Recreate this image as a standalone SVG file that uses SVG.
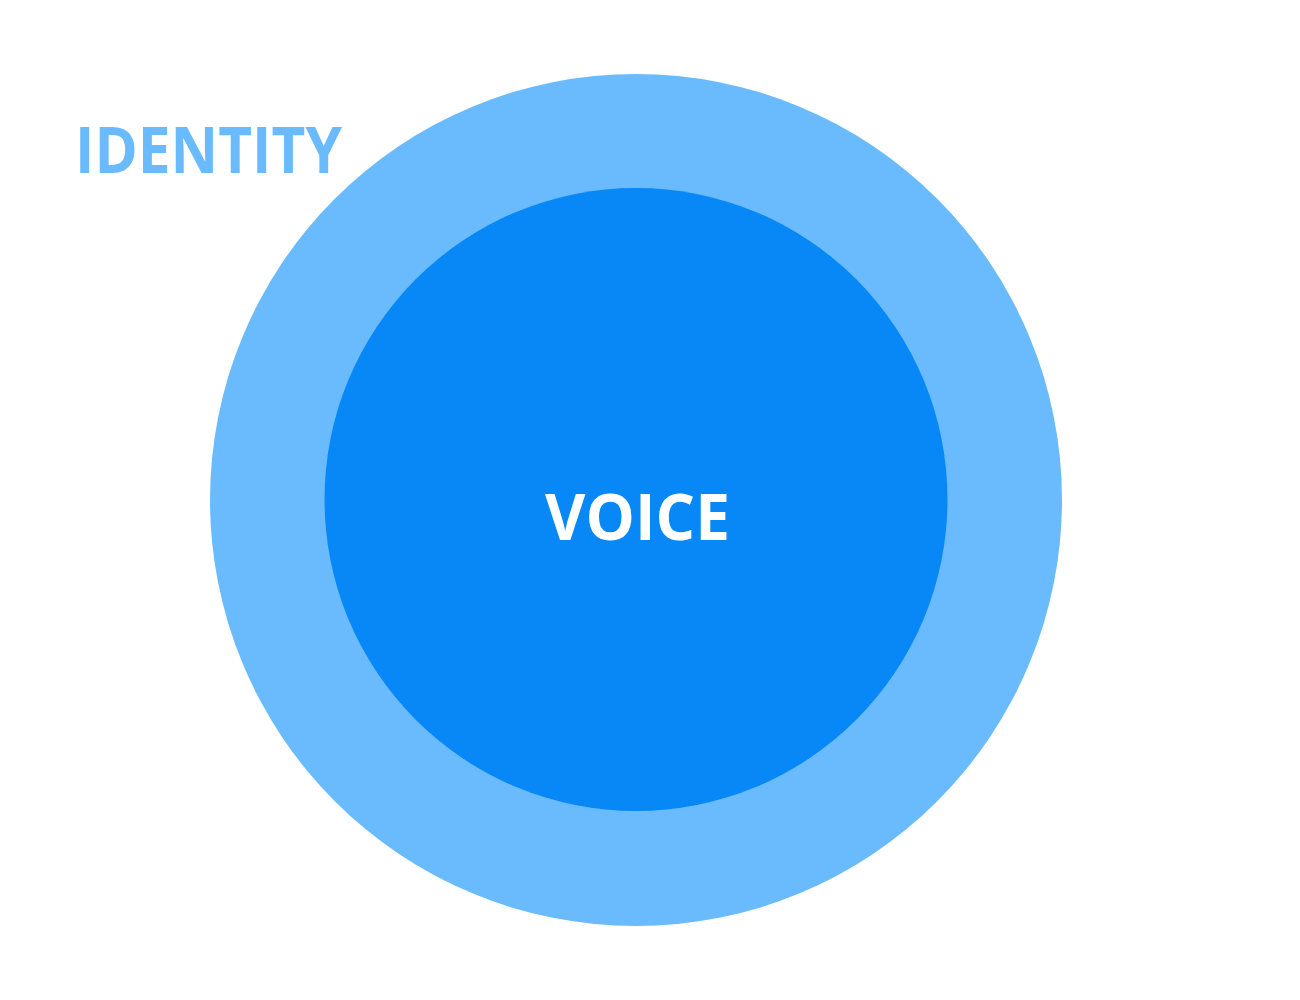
<svg xmlns="http://www.w3.org/2000/svg" width="1300" height="1000" viewBox="0 0 1300 1000">
<style>
.lbl{font-family:"Open Sans","Liberation Sans",sans-serif;font-weight:bold;font-size:64px}
</style>
<rect width="1300" height="1000" fill="#ffffff"/>
<g id="identity">
<circle cx="636" cy="500" r="426" fill="#6ABBFE"/>
<text class="lbl" x="75" y="173" fill="#6ABBFE" textLength="267" lengthAdjust="spacingAndGlyphs">IDENTITY</text>
</g>
<g id="voice">
<circle cx="636" cy="499.5" r="311.5" fill="#0788F6"/>
<text class="lbl" x="545" y="540" fill="#ffffff" textLength="185" lengthAdjust="spacingAndGlyphs">VOICE</text>
</g>
<g id="connectors"></g>
</svg>
